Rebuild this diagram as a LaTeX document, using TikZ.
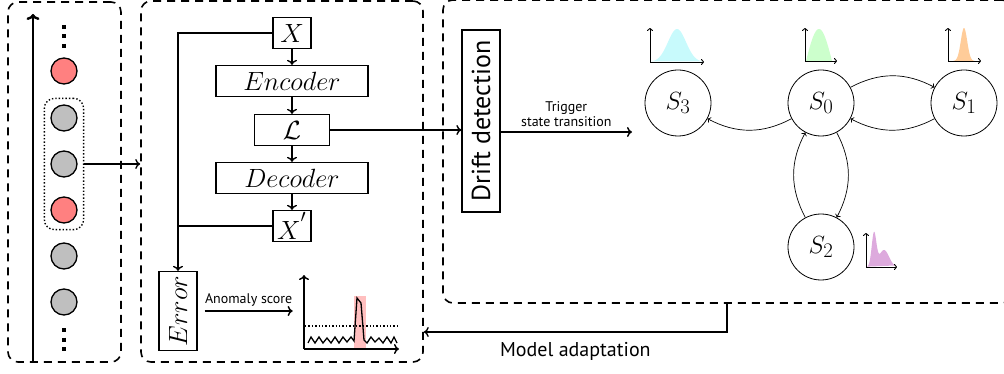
\documentclass[tikz,border=0pt]{standalone}
\usepackage{fontspec}
\setsansfont{PT Sans}
\usetikzlibrary{arrows.meta,fit,calc}
\definecolor{purpdist}{RGB}{221,170,221}
\definecolor{cyandist}{RGB}{200,250,252}
\begin{document}
\begin{tikzpicture}[x=1pt,y=-1pt,
  panel/.style={draw, line width=1.6pt, dash pattern=on 8pt off 6pt, rounded corners=10pt, inner sep=0pt},
  blk/.style={draw, line width=1.3pt, minimum height=31pt, inner sep=0pt, font=\fontsize{24.88}{30}\selectfont},
  st/.style={draw, circle, line width=0.8pt, minimum size=66pt, inner sep=0pt, font=\fontsize{24.88}{28}\selectfont},
  dotc/.style={circle, draw, line width=1.3pt, minimum size=26pt, inner sep=0pt},
  arr/.style={-{To[length=5pt,width=10pt]}, line width=1.4pt},
  tarr/.style={-{To[length=3pt,width=6pt]}, line width=0.7pt},
  axarr/.style={-{To[length=3pt,width=6pt]}, line width=0.9pt},
  lbl/.style={font=\sffamily\fontsize{14}{15}\selectfont, align=center, inner sep=2pt}
]
\useasboundingbox (0,0) rectangle (1004,374);

% ---------- left panel ----------
\node[panel, minimum width=113pt, minimum height=360pt] (lp) at (64.5,182) {};
\draw[line width=2.4pt, -{To[length=6pt,width=13pt]}] (33,362) -- (33,14);
\draw[line width=4pt, dash pattern=on 4pt off 5.5pt] (64,25) -- (64,50);
\node[dotc, fill=red!50]  (c1) at (64,71) {};
\node[dotc, fill=gray!50] (c2) at (64,118) {};
\node[dotc, fill=gray!50] (c3) at (64,164) {};
\node[dotc, fill=red!50]  (c4) at (64,210) {};
\node[dotc, fill=gray!50] (c5) at (64,256) {};
\node[dotc, fill=gray!50] (c6) at (64,302) {};
\draw[line width=4pt, dash pattern=on 4pt off 5.5pt] (64,328) -- (64,353);
\node[draw, dotted, line width=1.4pt, rounded corners=10pt, inner sep=6pt, fit=(c2)(c4)] (win) {};

% ---------- middle panel ----------
\node[panel, minimum width=282pt, minimum height=361pt] (mid) at (282,181.5) {};
\draw[arr] (win.east) -- (win.east -| mid.west);

\node[blk, minimum width=38pt]  (x)   at (292,33)  {\scalebox{1.06}{$X$}};
\node[blk, minimum width=152pt] (enc) at (292,81)  {\scalebox{1.06}{$Encoder$}};
\node[blk, minimum width=75pt]  (L)   at (292,130) {\scalebox{1.06}{$\mathcal{L}$}};
\node[blk, minimum width=152pt] (dec) at (292,178) {\scalebox{1.06}{$Decoder$}};
\node[blk, minimum width=38pt]  (xp)  at (292,226) {\scalebox{1.06}{$X^{'}$}};
\draw[arr] (x) -- (enc);
\draw[arr] (enc) -- (L);
\draw[arr] (L) -- (dec);
\draw[arr] (dec) -- (xp);

\node[blk, rotate=90, minimum width=79pt, minimum height=38pt] (err) at (178,311) {\scalebox{1.06}{$Error$}};
\draw[arr] (x.west) -| (err.east);
\draw[line width=1.4pt] (xp.west) -- (xp.west -| err.east);

\draw[arr] ([xshift=7pt]err.south) -- ++(88,0) node[midway, above, lbl, yshift=2pt] {Anomaly score};

% anomaly plot
\coordinate (po) at (304,349);
\fill[red!25] (354,296) rectangle (366,349);
\draw[dotted, line width=1.4pt] (305,326) -- (397,326);
\draw[line width=1.3pt] (308,343) -- (311,337) -- (315,343) -- (319,337) -- (323,343) -- (327,338) -- (331,343) -- (335,337) -- (339,343) -- (343,337) -- (347,342) -- (351,337) -- (354,341) -- (357,298) -- (361,303) -- (364,340) -- (367,343) -- (371,337) -- (375,342) -- (379,338) -- (383,343) -- (387,337) -- (391,343) -- (394,337) -- (397,343);
\draw[arr] (po) -- (304,275);
\draw[arr] (po) -- (399,349);

% ---------- right panel ----------
\node[panel, minimum width=569pt, minimum height=303pt] (rp) at (727.5,151.5) {};
\node[draw, line width=1.3pt, rotate=90, minimum width=182pt, minimum height=38pt, inner sep=0pt, font=\sffamily\fontsize{26}{28}\selectfont] (drift) at (481,121) {Drift detection};
\draw[arr] (L.east) -- (L.east -| drift.north);

\coordinate (trg) at (632,132);
\draw[arr] (trg -| drift.south) -- (trg) node[midway, above, lbl, yshift=3pt] {Trigger\\state transition};

\node[st] (s3) at (678,103) {$S_3$};
\node[st] (s0) at (821,103) {$S_0$};
\node[st] (s1) at (964,103) {$S_1$};
\node[st] (s2) at (821,247) {$S_2$};
\draw[tarr] (s0) to[bend left=28] (s1);
\draw[tarr] (s1) to[bend left=28] (s0);
\draw[tarr] (s0) to[bend left=28] (s3);
\draw[tarr] (s0) to[bend left=28] (s2);
\draw[tarr] (s2) to[bend left=28] (s0);

% distributions
\fill[cyandist] plot[domain=651:703, samples=50] (\x, {62-33*exp(-((\x-677)/9)^2/2)}) -- cycle;
\draw[axarr] (650,62) -- (650,28);
\draw[axarr] (650,62) -- (704,62);

\fill[green!20] plot[domain=806:832, samples=40] (\x, {61-32*sin((\x-806)/26*180)}) -- cycle;
\draw[axarr] (805,61) -- (805,28);
\draw[axarr] (805,61) -- (837,61);

\fill[orange!40] plot[domain=953:975, samples=50] (\x, {61-33*exp(-((\x-964)/3.2)^2/2)}) -- cycle;
\draw[axarr] (948,61) -- (948,28);
\draw[axarr] (948,61) -- (981,61);

\fill[purpdist] plot[domain=867:895, samples=60] (\x, {267-(33*exp(-((\x-874)/2.3)^2/2)+17*exp(-((\x-884)/5)^2/2))}) -- cycle;
\draw[axarr] (866,267) -- (866,233);
\draw[axarr] (866,267) -- (897,267);

% model adaptation
\coordinate (ma) at (727,332);
\draw[arr] (rp.south -| ma) -- (ma) -- (ma -| mid.east) node[pos=0.5, below, font=\sffamily\fontsize{20}{22}\selectfont, yshift=-6pt] {Model adaptation};
\end{tikzpicture}
\end{document}
